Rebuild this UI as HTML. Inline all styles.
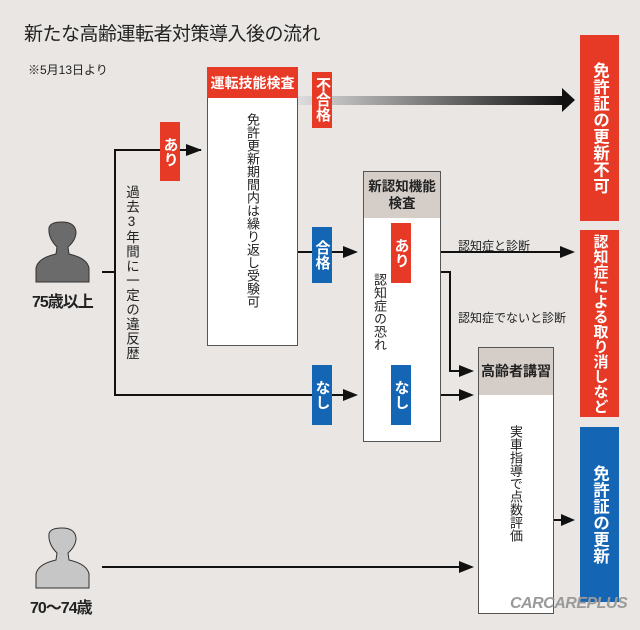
<!DOCTYPE html>
<html><head><meta charset="utf-8"><style>
body{margin:0}
#c{position:relative;width:640px;height:630px;background:#e9e6e3;overflow:hidden;font-family:"Liberation Sans","Noto Sans CJK JP",sans-serif;color:#222}
.a{position:absolute}
.v{writing-mode:vertical-rl;text-orientation:upright;white-space:nowrap}
.tag{position:absolute;color:#fff;display:flex;align-items:center;justify-content:center;font-weight:bold;font-size:15px;line-height:1}
.red{background:#e63a26}.blue{background:#1565b5}
.box{position:absolute;background:#fff;border:1px solid #555;box-sizing:border-box}
</style></head><body><div id="c">
<div class="a" style="left:24px;top:19px;font-size:19px;letter-spacing:-0.5px">新たな高齢運転者対策導入後の流れ</div>
<div class="a" style="left:28px;top:61px;font-size:12px">※5月13日より</div>

<svg class="a" style="left:0;top:0" width="640" height="630">
<defs><linearGradient id="g" x1="0" x2="1"><stop offset="0" stop-color="#ddd"/><stop offset="1" stop-color="#111"/></linearGradient></defs>
<rect x="298" y="96" width="266" height="9" fill="url(#g)"/>
<polygon points="562,88 575,100 562,112" fill="#111"/>
<g stroke="#111" stroke-width="2" fill="none">
<polyline points="201,150 115,150 115,395 345,395"/>
<line x1="102" y1="272" x2="115" y2="272"/>
<line x1="297" y1="252" x2="345" y2="252"/>
<line x1="411" y1="252" x2="562" y2="252"/>
<polyline points="411,272 450,272 450,371 461,371"/>
<line x1="411" y1="395" x2="461" y2="395"/>
<line x1="553" y1="520" x2="562" y2="520"/>
<line x1="102" y1="567" x2="461" y2="567"/>
</g>
<g fill="#111">
<polygon points="186,144 202,150 186,156"/>
<polygon points="343,246 358,252 343,258"/>
<polygon points="343,389 358,395 343,401"/>
<polygon points="560,246 575,252 560,258"/>
<polygon points="459,365 474,371 459,377"/>
<polygon points="459,389 474,395 459,401"/>
<polygon points="561,514 575,520 561,526"/>
<polygon points="459,561 474,567 459,573"/>
</g>
<g stroke="#333" stroke-width="1">
<path d="M36,282 L36,268 Q38,258 56,254 L57,247 Q48,238 49,228 Q50,222 62,222 Q75,222 76,232 Q76,240 68,247 L69,254 Q87,258 89,268 L89,282 Z" fill="#6b6b6b"/>
<path d="M36,588 L36,574 Q38,564 56,560 L57,553 Q48,544 49,534 Q50,528 62,528 Q75,528 76,538 Q76,546 68,553 L69,560 Q87,564 89,574 L89,588 Z" fill="#c6c6c6"/>
</g>
</svg>
<div class="a" style="left:32px;top:288px;font-size:16px;font-weight:bold;letter-spacing:-1px">75歳以上</div>
<div class="a" style="left:30px;top:594px;font-size:16px;font-weight:bold;letter-spacing:-1px">70〜74歳</div>
<div class="a v" style="left:123px;top:185px;font-size:13.5px;line-height:16px;letter-spacing:1px">過去3年間に一定の違反歴</div>

<div class="box" style="left:207px;top:67px;width:91px;height:279px"></div>
<div class="tag red" style="left:207px;top:67px;width:91px;height:31px;font-size:14px">運転技能検査</div>
<div class="a v" style="left:244px;top:113px;font-size:13px;line-height:16px">免許更新期間内は繰り返し受験可</div>

<div class="box" style="left:363px;top:171px;width:78px;height:271px"></div>
<div class="a" style="left:364px;top:172px;width:76px;height:46px;background:#d4cdc8;font-size:13.5px;font-weight:bold;text-align:center;line-height:17px;padding-top:6px;box-sizing:border-box">新認知機能<br>検査</div>
<div class="a v" style="left:371px;top:273px;font-size:13px;line-height:16px">認知症の恐れ</div>

<div class="box" style="left:478px;top:347px;width:76px;height:267px"></div>
<div class="a" style="left:479px;top:348px;width:74px;height:47px;background:#d4cdc8;font-size:14px;font-weight:bold;text-align:center;line-height:47px">高齢者講習</div>
<div class="a v" style="left:507px;top:425px;font-size:13px;line-height:16px">実車指導で点数評価</div>

<div class="a red v" style="left:312px;top:72px;width:20px;height:56px;box-sizing:border-box;padding-top:5px;color:#fff;font-weight:bold;font-size:15px;line-height:20px;text-align:left">不合格</div>
<div class="tag red v" style="left:160px;top:122px;width:20px;height:59px">あり</div>
<div class="tag blue v" style="left:312px;top:227px;width:20px;height:56px">合格</div>
<div class="tag red v" style="left:391px;top:223px;width:20px;height:60px">あり</div>
<div class="tag blue v" style="left:312px;top:365px;width:20px;height:60px">なし</div>
<div class="tag blue v" style="left:391px;top:365px;width:20px;height:60px">なし</div>

<div class="a" style="left:458px;top:237px;font-size:12px">認知症と診断</div>
<div class="a" style="left:458px;top:309px;font-size:12px">認知症でないと診断</div>

<div class="tag red v" style="left:580px;top:35px;width:39px;height:186px;font-size:16.5px;line-height:18px">免許証の更新不可</div>
<div class="tag red v" style="left:580px;top:230px;width:39px;height:187px;font-size:15px;line-height:18px">認知症による取り消しなど</div>
<div class="tag blue v" style="left:580px;top:427px;width:39px;height:175px;font-size:16.5px;line-height:18px">免許証の更新</div>

<div class="a" style="left:510px;top:595px;font-size:16px;font-weight:bold;font-style:italic;color:#9a9a9a;letter-spacing:-0.5px">CARCAREPLUS</div>
</div></body></html>
